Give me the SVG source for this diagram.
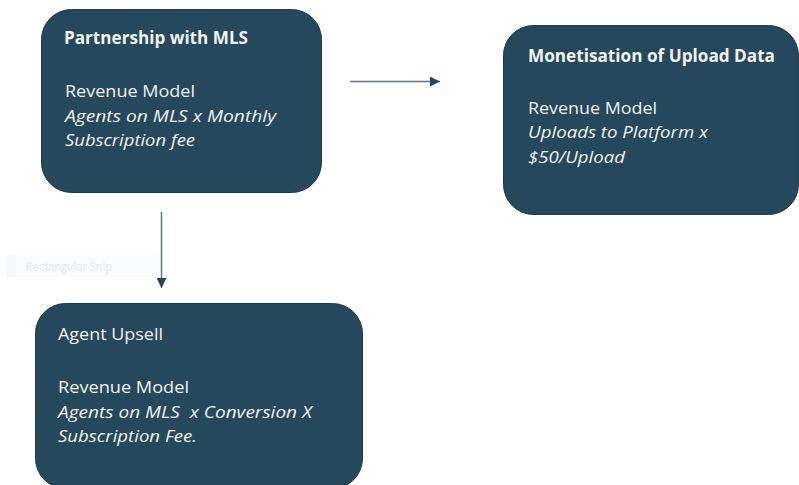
<svg xmlns="http://www.w3.org/2000/svg" width="799" height="485" viewBox="0 0 799 485">
  <defs>
    <marker id="head" viewBox="0 0 10 10" refX="10" refY="5" markerWidth="10" markerHeight="10" markerUnits="userSpaceOnUse" orient="auto">
      <path d="M0,0 L10,5 L0,10 Z" fill="#24475c"/>
    </marker>
  </defs>
  <style>
    .box { fill: #25485c; stroke: #1c3a4c; stroke-width: 1; }
    .t { font-family: "Open Sans", "Noto Sans", sans-serif; font-size: 17px; fill: #f2f2f2; }
    .b { font-weight: bold; }
    .i { font-style: italic; }
    .edge { stroke: #5a7689; stroke-width: 1.5; fill: none; marker-end: url(#head); }
  </style>
  <rect width="799" height="485" fill="#ffffff"/>

  <!-- faint snipping-tool label -->
  <g id="snip">
    <rect x="7" y="255" width="153" height="22" fill="#fafbfd"/>
    <rect x="7" y="255" width="9" height="22" fill="#f3f6fa"/>
    <text x="26" y="271" font-family="'Open Sans', sans-serif" font-size="12" fill="#e4e7ec" textLength="86" lengthAdjust="spacingAndGlyphs">Rectangular Snip</text>
  </g>

  <g id="partnership">
    <rect class="box" x="41.5" y="9.5" width="280" height="183" rx="30"/>
    <text class="t b" x="64" y="43.5" textLength="184" lengthAdjust="spacingAndGlyphs">Partnership with MLS</text>
    <text class="t" x="65" y="97" textLength="130" lengthAdjust="spacingAndGlyphs">Revenue Model</text>
    <text class="t i" x="65" y="121.5" textLength="211" lengthAdjust="spacingAndGlyphs">Agents on MLS x Monthly</text>
    <text class="t i" x="65" y="145.5" textLength="130" lengthAdjust="spacingAndGlyphs">Subscription fee</text>
  </g>

  <g id="monetisation">
    <rect class="box" x="503.5" y="25.5" width="295" height="189" rx="30"/>
    <text class="t b" x="528" y="62" textLength="247" lengthAdjust="spacingAndGlyphs">Monetisation of Upload Data</text>
    <text class="t" x="528" y="113.5" textLength="129" lengthAdjust="spacingAndGlyphs">Revenue Model</text>
    <text class="t i" x="528" y="138" textLength="180" lengthAdjust="spacingAndGlyphs">Uploads to Platform x</text>
    <text class="t i" x="528" y="162.5" textLength="97" lengthAdjust="spacingAndGlyphs">$50/Upload</text>
  </g>

  <g id="upsell">
    <rect class="box" x="35.5" y="303.5" width="327" height="185" rx="30"/>
    <text class="t" x="58" y="340" textLength="105" lengthAdjust="spacingAndGlyphs">Agent Upsell</text>
    <text class="t" x="58" y="392.5" textLength="131" lengthAdjust="spacingAndGlyphs">Revenue Model</text>
    <text class="t i" x="58" y="417.5" textLength="254" lengthAdjust="spacingAndGlyphs" xml:space="preserve">Agents on MLS  x Conversion X</text>
    <text class="t i" x="58" y="442" textLength="139" lengthAdjust="spacingAndGlyphs">Subscription Fee.</text>
  </g>

  <g id="connectors">
    <line class="edge" x1="350" y1="81.5" x2="440" y2="81.5"/>
    <line class="edge" x1="161.5" y1="212" x2="161.5" y2="288"/>
  </g>
</svg>
